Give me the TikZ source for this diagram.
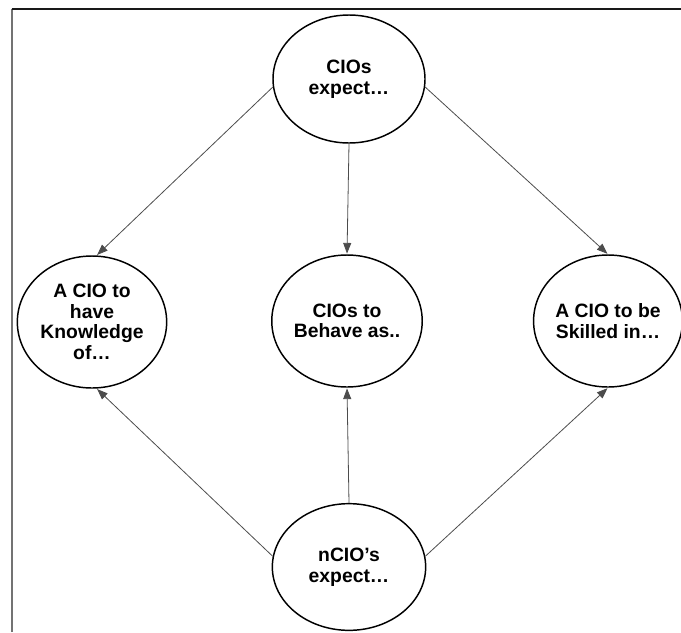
\documentclass[tikz,border=0pt]{standalone}
\usepackage{fontspec}
\setmainfont{Liberation Sans}
\usetikzlibrary{shapes.geometric,arrows.meta}
\begin{document}
\begin{tikzpicture}[x=0.75pt,y=-0.75pt,
  bubble/.style={ellipse,draw=black,line width=1.1pt,inner sep=0pt,
    align=center,font=\fontsize{14.5}{15.5}\selectfont\bfseries},
  link/.style={draw=black!70,line width=0.6pt,
    -{Triangle[length=8pt,width=6pt]},shorten >=0.5pt}]
  \useasboundingbox (0,0) rectangle (681,632);
  % frame edges
  \draw[black!55,line width=1.5pt] (12,632) -- (12,9);
  \draw[black!90,line width=1.2pt] (11.5,9) -- (681,9);
  % bubbles
  \node[bubble,minimum width=114pt,minimum height=96pt] (top) at (349,79) {CIOs\\expect…};
  \node[bubble,minimum width=112pt,minimum height=99pt] (know) at (92,322) {A CIO to\\have\\Knowledge\\of…};
  \node[bubble,minimum width=109pt,minimum height=99pt] (behave) at (347,321) {CIOs to\\Behave as..};
  \node[bubble,minimum width=108pt,minimum height=99pt] (skill) at (608,321) {A CIO to be\\Skilled in…};
  \node[bubble,minimum width=115pt,minimum height=95pt] (bottom) at (349,567) {nCIO’s\\expect…};
  % connectors
  \draw[link] (top.186) -- (know.86);
  \draw[link] (top.south) -- (behave.north);
  \draw[link] (top.354) -- (skill.90);
  \draw[link] (bottom.172) -- (know.274);
  \draw[link] (bottom.north) -- (behave.south);
  \draw[link] (bottom.8) -- (skill.270);
\end{tikzpicture}
\end{document}
